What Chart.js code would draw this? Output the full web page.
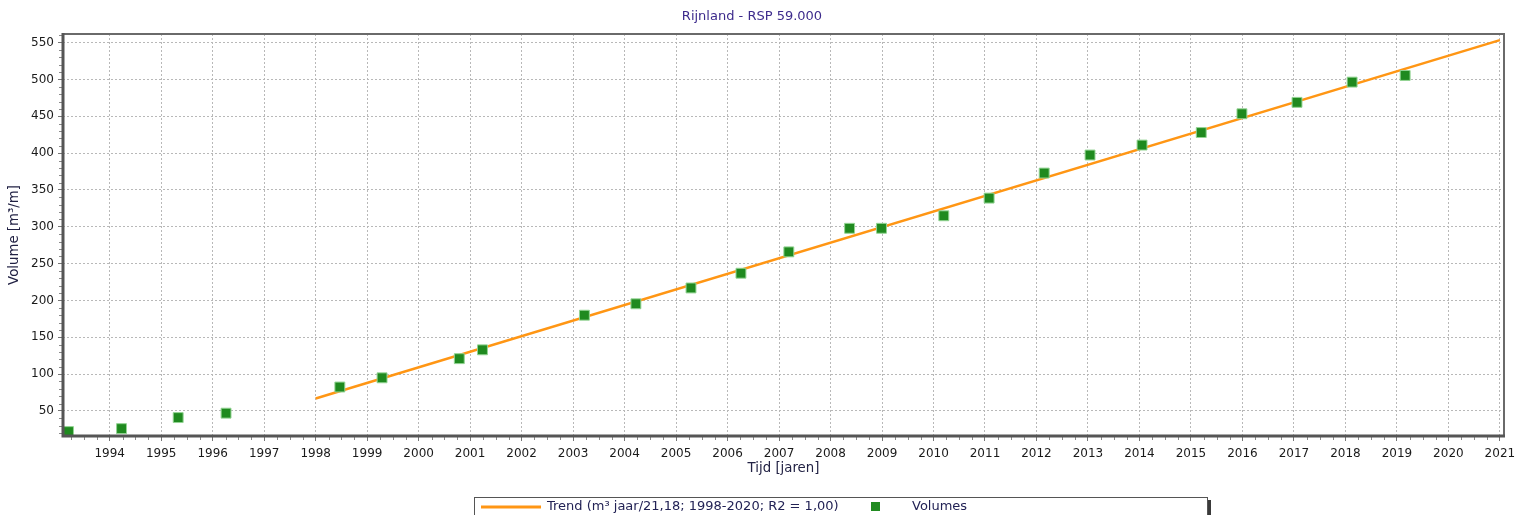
<!DOCTYPE html>
<html><head><meta charset="utf-8">
<script src="https://cdn.jsdelivr.net/npm/chart.js@4.4.1/dist/chart.umd.min.js"></script>
<style>html,body{margin:0;padding:0;background:#fff;}canvas{display:block;}</style>
</head><body>
<canvas id="c" width="1524" height="515"></canvas>
<script>
const titleText = 'Rijnland - RSP 59.000';
const xAxisTitle = 'Tijd [jaren]';
const yAxisTitle = 'Volume [m³/m]';
const trendLabel = 'Trend (m³ jaar/21,18; 1998-2020; R2 = 1,00)';
const pointsLabel = 'Volumes';

const measureYears = [1993.20, 1994.23, 1995.33, 1996.26, 1998.47, 1999.29, 2000.79, 2001.24, 2003.22, 2004.22,
  2005.29, 2006.26, 2007.19, 2008.37, 2008.99, 2010.20, 2011.08, 2012.15, 2013.04, 2014.05,
  2015.20, 2015.99, 2017.06, 2018.13, 2019.16];
const measureVolumes = [22, 26, 41, 47, 82.5, 95, 121, 133, 180, 195.5,
  217, 237, 266, 298, 298, 315, 339, 373, 397.5, 411,
  428, 453.5, 469, 496.5, 505.5];
const trendYears = [1998, 2021];
const trendVolumes = [67, 553.5];

const xMin = 1993.093, xMax = 2021.08, xStep = 1, xMinorStep = 0.25;
const yMin = 16, yMax = 561.8, yStep = 50, yMinorStep = 10;

const FONT = 'DejaVu Sans';
Chart.defaults.font.family = FONT;
Chart.defaults.font.size = 12;

const decor = {
  id: 'decor',
  afterDraw(chart) {
    const ctx = chart.ctx, a = chart.chartArea;
    const xs = chart.scales.x, ys = chart.scales.y;
    ctx.save();
    // minor ticks
    ctx.strokeStyle = '#8a8a8a';
    ctx.lineWidth = 1;
    ctx.beginPath();
    for (let v = Math.ceil(xMin / xMinorStep) * xMinorStep; v <= xMax; v += xMinorStep) {
      if (Math.abs(v - Math.round(v)) < 1e-6) continue;
      const px = Math.round(xs.getPixelForValue(v)) + 0.5;
      ctx.moveTo(px, a.bottom); ctx.lineTo(px, a.bottom + 4);
    }
    for (let v = Math.ceil(yMin / yMinorStep) * yMinorStep; v <= yMax; v += yMinorStep) {
      if (v % yStep === 0) continue;
      const py = Math.round(ys.getPixelForValue(v)) + 0.5;
      ctx.moveTo(a.left - 4, py); ctx.lineTo(a.left, py);
    }
    ctx.stroke();
    // frame
    ctx.strokeStyle = '#6a6a6a';
    ctx.lineWidth = 2;
    ctx.beginPath();
    ctx.moveTo(a.left, a.top); ctx.lineTo(a.right, a.top); ctx.lineTo(a.right, a.bottom);
    ctx.stroke();
    ctx.strokeStyle = '#555';
    ctx.lineWidth = 3;
    ctx.beginPath();
    ctx.moveTo(a.left, a.top - 1); ctx.lineTo(a.left, a.bottom); ctx.lineTo(a.right + 1, a.bottom);
    ctx.stroke();
    // title
    ctx.fillStyle = '#3d2b8c';
    ctx.font = '13px "' + FONT + '"';
    ctx.textAlign = 'center';
    ctx.textBaseline = 'middle';
    ctx.fillText(titleText, 752, 17);
    // axis titles
    ctx.fillStyle = '#222244';
    ctx.font = '13.3px "' + FONT + '"';
    ctx.fillText(xAxisTitle, (a.left + a.right) / 2, 468.5);
    ctx.save();
    ctx.translate(15, (a.top + a.bottom) / 2);
    ctx.rotate(-Math.PI / 2);
    ctx.fillText(yAxisTitle, 0, 0);
    ctx.restore();
    // legend
    ctx.font = '13px "' + FONT + '"';
    ctx.fillStyle = '#fff';
    ctx.fillRect(474, 497, 734, 30);
    ctx.strokeStyle = '#555';
    ctx.lineWidth = 1;
    ctx.strokeRect(474.5, 497.5, 733, 30);
    ctx.fillStyle = '#3a3a3a';
    ctx.fillRect(1208, 500, 3, 20);
    ctx.strokeStyle = '#ff9614';
    ctx.lineWidth = 3;
    ctx.beginPath(); ctx.moveTo(481, 507); ctx.lineTo(541, 507); ctx.stroke();
    ctx.fillStyle = '#222255';
    ctx.textAlign = 'left';
    ctx.fillText(trendLabel, 547, 507);
    ctx.fillText(pointsLabel, 912, 507);
    ctx.fillStyle = '#218b21';
    ctx.fillRect(871, 502, 9, 9);
    ctx.restore();
  }
};

new Chart(document.getElementById('c'), {
  type: 'scatter',
  data: {
    datasets: [
      {
        label: pointsLabel,
        order: 0,
        data: measureYears.map((x, i) => ({x, y: measureVolumes[i]})),
        pointStyle: 'rect',
        pointRadius: 7,
        pointHoverRadius: 7,
        backgroundColor: '#1f8a1f',
        borderColor: '#93d493',
        borderWidth: 1
      },
      {
        label: trendLabel,
        type: 'line',
        order: 1,
        data: trendYears.map((x, i) => ({x, y: trendVolumes[i]})),
        borderColor: '#ff9614',
        borderWidth: 2.5,
        pointRadius: 0,
        fill: false,
        tension: 0
      }
    ]
  },
  options: {
    responsive: false,
    animation: false,
    devicePixelRatio: 1,
    layout: { padding: { left: 0, top: 34, right: 20, bottom: 49 } },
    plugins: { legend: { display: false }, title: { display: false }, tooltip: { enabled: false } },
    scales: {
      x: {
        type: 'linear',
        min: xMin, max: xMax,
        afterFit(s) { s.height = 30; s.paddingLeft = 0; s.paddingRight = 0; },
        ticks: { stepSize: xStep, includeBounds: false, autoSkip: false, maxRotation: 0, padding: 6, color: '#1a1a1a', callback: v => String(v) },
        grid: { color: '#b8b8b8', tickColor: '#777', tickLength: 5, lineWidth: 1 },
        border: { display: false, dash: [2, 2] }
      },
      y: {
        type: 'linear',
        min: yMin, max: yMax,
        afterFit(s) { s.width = 63; s.paddingTop = 0; s.paddingBottom = 0; },
        ticks: { stepSize: yStep, includeBounds: false, autoSkip: false, padding: 4, color: '#1a1a1a' },
        grid: { color: '#b8b8b8', tickColor: '#777', tickLength: 5, lineWidth: 1 },
        border: { display: false, dash: [2, 2] }
      }
    }
  },
  plugins: [decor]
});
</script>
</body></html>
